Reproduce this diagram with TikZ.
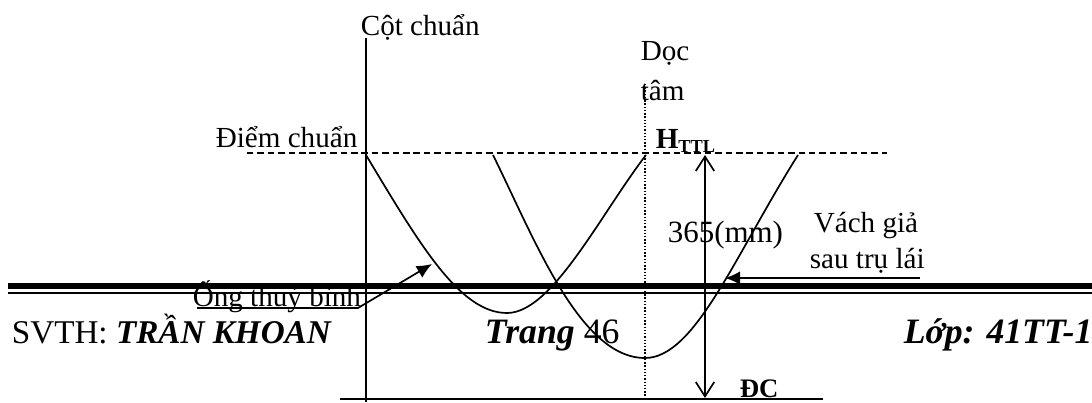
\documentclass[tikz,border=0pt]{standalone}
\usepackage{fontspec}
\setmainfont{Liberation Serif}
\usetikzlibrary{arrows.meta}
\tikzset{
    lab/.style={
        font=\fontsize{20.7}{25}\selectfont, anchor=base west, inner sep=0pt
    },
    foot/.style={
        font=\fontsize{23.6}{28}\selectfont, anchor=base west, inner sep=0pt
    },
    solidtip/.style={-{Latex[length=0.38cm,width=0.34cm]}},
    opentip/.style={{Straight Barb[length=0.36cm,width=0.46cm]}-{Straight Barb[length=0.36cm,width=0.46cm]}}
}

\begin{document}
\begin{tikzpicture}[x=0.025cm,y=-0.025cm,line cap=butt,line join=round,line width=1.2pt]

% --- page frame (1 unit = 1 pixel of the reference) ---
    \useasboundingbox (0,0) rectangle (1092,402);

% --- main points ---
    \coordinate (colTop) at (366,38);
    \coordinate (colBot) at (366,402);
    \coordinate (refL) at (247,153);
    \coordinate (refR) at (887,153);
    \coordinate (baseL) at (340,399);
    \coordinate (baseR) at (823,399);
    \coordinate (axisTop) at (645,84);
    \coordinate (axisBot) at (645,399);
    \coordinate (tdc) at (705,155);
    \coordinate (bdc) at (705,398);

% header rules
    \coordinate (ruleL) at (8,286);
    \coordinate (ruleR) at (1092,286);
    \coordinate (thinL) at (8,293);
    \coordinate (thinR) at (1092,293);
    \draw[line width=4.8pt] (ruleL) -- (ruleR);
    \draw[line width=1.5pt] (thinL) -- (thinR);

% footer text
    \node[foot] (svth) at (11,343) {SVTH: \textbf{\textit{TRẦN KHOAN}}};
    \node[foot,font=\fontsize{25.4}{30}\selectfont] (trang) at (484,343) {\textbf{\textit{Trang}} 46};
    \node[foot,font=\fontsize{25.4}{30}\selectfont] (lop) at (903,343) {\textbf{\textit{Lớp: 41TT-1}}};

% column, reference line and base line
    \draw (colTop) -- (colBot);
    \draw[dash pattern=on 4.6pt off 2.8pt] (refL) -- (refR);
    \draw[line width=1.4pt] (baseL) -- (baseR);
    \draw[line width=1pt,dash pattern=on 1pt off 1.3pt] (axisTop) -- (axisBot);

% the two curves
    \draw (366,155) .. controls (420,245) and (460,313) .. (507,313)
        .. controls (552,313) and (600,215) .. (646,155);
    \draw (493,155) .. controls (535,240) and (580,358) .. (645,358)
        .. controls (695,358) and (735,255) .. (798,155);

% stroke arrow
    \draw[opentip] (tdc) -- (bdc);

% labels
    \node[lab] (cot) at (360,35) {Cột chuẩn};
    \node[lab] (diem) at (215,147) {Điểm chuẩn};
    \node[lab] (doc) at (640,60) {Dọc};
    \node[lab] (tam) at (640,100) {tâm};
    \node[lab] (httl) at (655,148) {\textbf{H\raisebox{-3pt}{\fontsize{13}{15}\selectfont TTL}}};
    \node[lab,font=\fontsize{22}{26}\selectfont] (stroke) at (667,242) {365(mm)};
    \node[lab] (vach) at (813,232) {Vách giả};
    \node[lab] (sau) at (809,268) {sau trụ lái};
    \node[lab,font=\fontsize{19}{23}\selectfont\bfseries] (dc) at (739,397) {ĐC};
    \node[lab] (ong) at (192,306) {Ống thuỷ bình};

% leaders
    \coordinate (ongL) at (197,308);
    \coordinate (ongR) at (358,308);
    \coordinate (ongTip) at (432,264);
    \draw[solidtip] (ongL) -- (ongR) -- (ongTip);
    \coordinate (sauR) at (920,278);
    \coordinate (sauTip) at (725,278);
    \draw[solidtip] (sauR) -- (sauTip);

\end{tikzpicture}
\end{document}
